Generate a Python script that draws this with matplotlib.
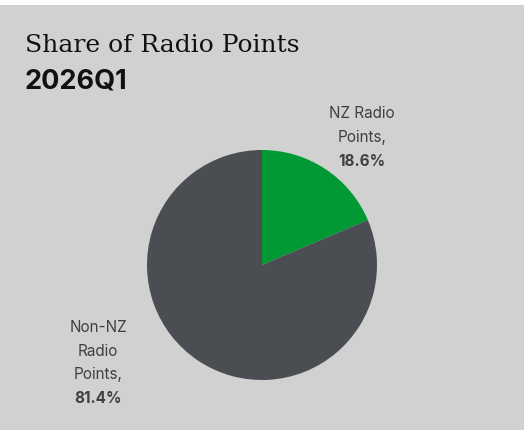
"""Share of Radio Points pie chart, 2026Q1."""

import matplotlib.pyplot as plt
from matplotlib.patches import Rectangle

W, H = 526, 430

categories = ["NZ Radio Points", "Non-NZ Radio Points"]
shares = [18.6, 81.4]
colors = ["#009933", "#4a4d52"]

BG = "#d1d1d1"
LABEL_COLOR = "#404040"

fig = plt.figure(figsize=(W / 100, H / 100), dpi=100, facecolor="white")

# grey panel (white strip along top and right edge)
fig.patches.append(Rectangle((0, 0), 524 / W, 425 / H, transform=fig.transFigure,
                             facecolor=BG, edgecolor="none", zorder=-10))

fig.text(25 / W, 1 - 46 / H, "Share of Radio Points", family="DejaVu Serif",
         fontsize=18, color="#111111", va="center", ha="left")
fig.text(25 / W, 1 - 82 / H, "2026Q1", family="Inter", fontweight="bold",
         fontsize=19.5, color="#111111", va="center", ha="left")

# pie axes: centre (262, 265), radius 115 px
ax = fig.add_axes([147 / W, 1 - 380 / H, 230 / W, 230 / H])
ax.pie(shares, colors=colors, startangle=90, counterclock=False,
       radius=1, wedgeprops=dict(linewidth=0))
ax.set_xlim(-1, 1)
ax.set_ylim(-1, 1)
ax.set_aspect("equal")
ax.axis("off")


def label(x, y, lines, value):
    step = 23.5
    for i, line in enumerate(lines):
        fig.text(x / W, 1 - (y + i * step) / H, line, family="Inter",
                 fontsize=11, color=LABEL_COLOR, ha="center", va="center")
    fig.text(x / W, 1 - (y + len(lines) * step) / H, f"{value:.1f}%",
             family="Inter", fontweight="bold", fontsize=11,
             color=LABEL_COLOR, ha="center", va="center")


label(362, 114, ["NZ Radio", "Points,"], shares[0])
label(98, 328, ["Non-NZ", "Radio", "Points,"], shares[1])

fig.savefig("out.png", dpi=100, facecolor="white")
